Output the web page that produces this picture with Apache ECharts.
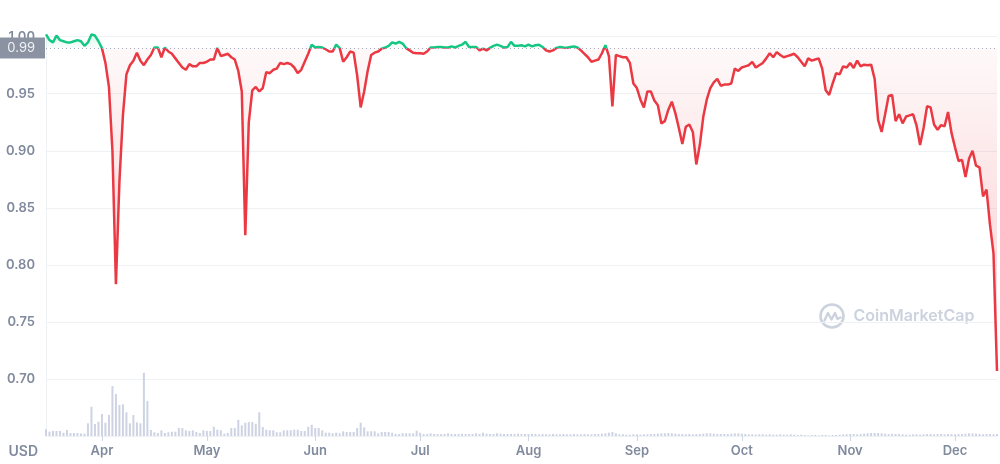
<!DOCTYPE html>
<html><head><meta charset="utf-8">
<script src="https://cdn.jsdelivr.net/npm/echarts@6/dist/echarts.min.js"></script>
<style>html,body{margin:0;padding:0;background:#fff}#c{width:1000px;height:464px}</style>
</head><body><div id="c"></div>
<script>
// ---- data (daily) ----
const startDate = '2022-03-16';
const currency = 'USD';
const refPrice = 0.99;
const prices = [
  1.002, 0.997, 0.995, 1.001, 0.997, 0.996, 0.995, 0.995, 0.996, 0.997,
  0.996, 0.992, 0.995, 1.002, 1.001, 0.996, 0.990, 0.977, 0.956, 0.900,
  0.783, 0.873, 0.931, 0.967, 0.975, 0.979, 0.986, 0.979, 0.975, 0.980,
  0.984, 0.9905, 0.9905, 0.982, 0.9905, 0.987, 0.985, 0.981, 0.977, 0.973,
  0.971, 0.976, 0.974, 0.974, 0.977, 0.977, 0.978, 0.980, 0.980, 0.9902,
  0.983, 0.984, 0.985, 0.982, 0.980, 0.970, 0.952, 0.826, 0.925, 0.953,
  0.956, 0.952, 0.955, 0.969, 0.968, 0.971, 0.972, 0.977, 0.976, 0.977,
  0.976, 0.973, 0.968, 0.971, 0.978, 0.985, 0.993, 0.9905, 0.991, 0.9905,
  0.989, 0.987, 0.987, 0.993, 0.990, 0.978, 0.982, 0.987, 0.986, 0.966,
  0.938, 0.952, 0.970, 0.984, 0.986, 0.987, 0.9895, 0.9905, 0.992, 0.995,
  0.994, 0.9955, 0.994, 0.990, 0.988, 0.986, 0.9855, 0.9855, 0.985, 0.987,
  0.9905, 0.9905, 0.991, 0.991, 0.9905, 0.9905, 0.9915, 0.9905, 0.992, 0.993,
  0.9955, 0.991, 0.991, 0.991, 0.988, 0.9895, 0.988, 0.9902, 0.992, 0.993,
  0.992, 0.9905, 0.991, 0.9955, 0.992, 0.992, 0.9925, 0.9915, 0.993, 0.9915,
  0.9925, 0.993, 0.991, 0.988, 0.987, 0.988, 0.9902, 0.991, 0.9905, 0.9903,
  0.991, 0.9915, 0.9905, 0.988, 0.985, 0.982, 0.978, 0.979, 0.980, 0.9855,
  0.9925, 0.983, 0.939, 0.984, 0.983, 0.982, 0.982, 0.977, 0.959, 0.955,
  0.945, 0.938, 0.952, 0.952, 0.944, 0.940, 0.924, 0.926, 0.936, 0.943,
  0.933, 0.920, 0.906, 0.921, 0.923, 0.9165, 0.888, 0.905, 0.930, 0.945,
  0.955, 0.960, 0.963, 0.957, 0.958, 0.958, 0.959, 0.972, 0.970, 0.973,
  0.974, 0.975, 0.978, 0.973, 0.975, 0.977, 0.981, 0.9855, 0.982, 0.9865,
  0.984, 0.982, 0.983, 0.984, 0.985, 0.982, 0.978, 0.974, 0.981, 0.979,
  0.980, 0.981, 0.972, 0.953, 0.949, 0.959, 0.968, 0.967, 0.974, 0.973,
  0.977, 0.9725, 0.979, 0.974, 0.9755, 0.975, 0.9755, 0.963, 0.927, 0.9165,
  0.932, 0.948, 0.949, 0.926, 0.932, 0.924, 0.930, 0.931, 0.932, 0.922,
  0.905, 0.920, 0.939, 0.938, 0.923, 0.9185, 0.9225, 0.9215, 0.934, 0.9155,
  0.903, 0.891, 0.892, 0.877, 0.893, 0.900, 0.887, 0.8855, 0.860, 0.866,
  0.835, 0.810, 0.707
];
// daily trading volume (relative units)
const volumes = [
  6.7, 4.3, 5, 5, 5, 3.3, 6, 3, 3, 3,
  2.5, 2.3, 12.7, 29.3, 12, 14.3, 22, 13.3, 21, 50,
  42, 31, 31.7, 23.7, 12.7, 21, 13.7, 12.7, 63.3, 35,
  6, 3.7, 3, 5.7, 3, 3.7, 4.3, 4.3, 8, 8,
  5.7, 5, 5.7, 4, 3, 5.7, 5, 5, 9.3, 6.3,
  5.7, 2.3, 3, 8, 8, 16.3, 10.7, 13.3, 14, 14,
  12.3, 23.7, 9, 6.3, 5.7, 5.7, 3.7, 3.7, 5.7, 5.7,
  5.7, 6.3, 6.3, 5, 5, 9.3, 11.3, 8, 8, 5.7,
  3.3, 3.3, 2.7, 3.3, 2.7, 4.7, 4, 4, 4, 8,
  13.3, 8.7, 4.7, 4.7, 4.7, 2.7, 4, 4, 4, 3.3,
  2, 2, 2.7, 2.7, 2.7, 2.7, 5.3, 3.3, 2, 2,
  2.7, 2, 2, 2, 2, 2.7, 2, 2, 2, 2.3,
  2, 2, 2, 2.7, 2, 3.3, 2.3, 2, 2, 2.7,
  2.3, 2, 2, 2, 2, 2.3, 2, 2, 2, 2.3,
  2, 1.7, 2, 1.7, 1.7, 2, 1.7, 1.7, 2, 1.7,
  1.7, 2, 1.7, 1.7, 2, 1.7, 1.7, 2, 2, 2.3,
  2.7, 3.3, 4, 2.7, 1.7, 1.7, 1.3, 1.3, 1.7, 1.7,
  1.3, 1.7, 1.7, 2, 2, 2.3, 2.7, 2.7, 3, 2.7,
  2.3, 2, 2, 1.7, 2, 1.7, 2, 2, 2.3, 2.7,
  2.7, 2.3, 2, 2, 2, 2, 2.3, 2.7, 2.7, 2.3,
  2, 1.7, 1.7, 1.3, 1.7, 1.7, 1.3, 1.7, 1.3, 1.3,
  1.7, 1.3, 1.3, 1.7, 1.3, 1, 1.3, 1, 0.7, 1,
  1, 0.7, 1, 1, 0.7, 1, 1, 1.3, 1.7, 1.7,
  2, 2, 1.7, 2, 2.3, 2.7, 3, 3, 3, 2.7,
  2.3, 2, 2.3, 2, 2, 1.7, 1.3, 1.3, 1.7, 1.7,
  1.3, 1.7, 2, 2, 1.7, 2, 2, 1.7, 2, 2,
  1.7, 2, 2, 2.3, 2.7, 2.7, 2.3, 2, 1.7, 2,
  2, 1.7, 2
];
const monthLabels = ['Jan','Feb','Mar','Apr','May','Jun','Jul','Aug','Sep','Oct','Nov','Dec'];
const yTickLabels = ['0.70','0.75','0.80','0.85','0.90','0.95','1.00'];

// ---- build categories ----
const dates = [];
(function () {
  const t0 = Date.parse(startDate + 'T00:00:00Z');
  for (let i = 0; i < prices.length; i++) {
    dates.push(new Date(t0 + i * 86400000).toISOString().slice(0, 10));
  }
})();
const isMonthStart = (idx, val) => String(val).slice(8, 10) === '01';

const FONT = 'Inter, "Noto Sans", Roboto, sans-serif';
const GREEN = '#16c784', RED = '#ea3943';
const pMax = Math.max(...prices), pMin = Math.min(...prices);
const span = pMax - pMin;
const offRef = (pMax - refPrice) / span;
const off85 = (pMax - 0.85) / span;
const areaColor = new echarts.graphic.LinearGradient(0, 0, 0, 1, [
  { offset: 0, color: 'rgba(22,199,132,0.14)' },
  { offset: offRef, color: 'rgba(22,199,132,0.02)' },
  { offset: offRef, color: 'rgba(234,57,67,0.03)' },
  { offset: off85, color: 'rgba(234,57,67,0.15)' },
  { offset: 1, color: 'rgba(234,57,67,0.2)' }
]);

const chart = echarts.init(document.getElementById('c'), null, { renderer: 'canvas' });
chart.setOption({
  animation: false,
  backgroundColor: '#ffffff',
  textStyle: { fontFamily: FONT },
  grid: { left: 46, right: 3, top: 36.7, bottom: 28 },
  visualMap: {
    type: 'piecewise', show: false, seriesIndex: 0, dimension: 1,
    pieces: [ { gt: 0, lte: refPrice, color: RED }, { gt: refPrice, lte: 2, color: GREEN } ],
    outOfRange: { color: RED }
  },
  xAxis: {
    type: 'category', data: dates, boundaryGap: false,
    axisLine: { show: true, lineStyle: { color: '#eff2f5', width: 1 } },
    axisTick: { show: true, interval: isMonthStart, length: 5, lineStyle: { color: '#cfd6e4' } },
    axisLabel: {
      interval: isMonthStart,
      formatter: v => monthLabels[parseInt(v.slice(5, 7), 10) - 1],
      color: '#808a9d', fontSize: 13, fontWeight: 600, margin: 9, fontFamily: FONT
    },
    splitLine: { show: false }
  },
  yAxis: [
    {
      type: 'value', min: 0.65, max: 1.0, interval: 0.05,
      axisLine: { show: true, lineStyle: { color: '#eff2f5' } },
      axisTick: { show: false },
      axisLabel: {
        formatter: v => { const s = v.toFixed(2); return yTickLabels.indexOf(s) >= 0 ? s : ''; },
        color: '#808a9d', fontSize: 13, fontWeight: 600, margin: 11, fontFamily: FONT
      },
      splitLine: { lineStyle: { color: '#eff2f5', width: 1 } },
      name: currency, nameLocation: 'start', nameGap: 9,
      nameTextStyle: { align: 'right', verticalAlign: 'top', padding: [0, 8, 0, 0],
        color: '#808a9d', fontSize: 14, fontWeight: 600, fontFamily: FONT }
    },
    { type: 'value', min: 0, max: 400, show: false }
  ],
  series: [
    {
      type: 'line', data: prices, showSymbol: false, clip: false, z: 3,
      lineStyle: { width: 2.5 },
      areaStyle: { origin: refPrice, color: areaColor, opacity: 1 },
      markLine: {
        silent: true, symbol: ['none', 'none'],
        data: [ { yAxis: refPrice } ],
        lineStyle: { type: [1, 3], color: '#a3abbd', width: 1 },
        label: {
          position: 'start', distance: 1, formatter: refPrice.toFixed(2),
          color: '#f0f2f5', backgroundColor: '#8b93a3', fontSize: 13, lineHeight: 14,
          padding: [3, 10, 4, 10], fontFamily: FONT
        }
      }
    },
    {
      type: 'bar', data: volumes, yAxisIndex: 1, barWidth: 2, silent: true, z: 1,
      itemStyle: { color: '#cdd3e2' }
    }
  ],
  graphic: [
    {
      type: 'group', x: 819.5, y: 303.5, silent: true, z: 0,
      children: [
        { type: 'circle', shape: { cx: 12.5, cy: 12.5, r: 11.5 },
          style: { fill: 'none', stroke: '#ccd2de', lineWidth: 2.6 } },
        { type: 'polyline', shape: { points: [[5, 17], [8.5, 9.5], [12, 16], [15.5, 9.5], [18, 15.5], [21, 14]] },
          style: { fill: 'none', stroke: '#ccd2de', lineWidth: 2.4, lineJoin: 'round', lineCap: 'round' } },
        { type: 'text', x: 34, y: 13,
          style: { text: 'CoinMarketCap', fill: '#ccd2de', font: '600 16px ' + FONT, verticalAlign: 'middle' } }
      ]
    }
  ]
});
</script>
</body></html>
